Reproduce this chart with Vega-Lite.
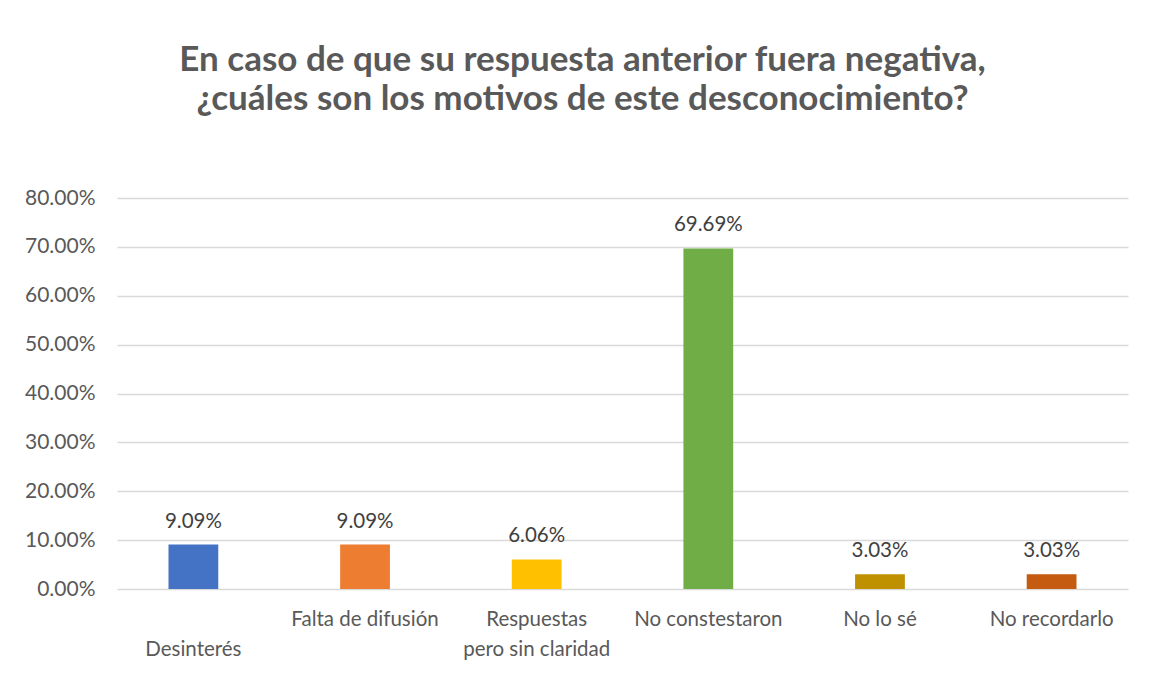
{
  "$schema": "https://vega.github.io/schema/vega-lite/v6.json",
  "width": 1011,
  "height": 391,
  "autosize": {"type": "none"},
  "padding": {"left": 117, "top": 198, "right": 22, "bottom": 84},
  "background": "white",
  "title": {
    "text": ["En caso de que su respuesta anterior fuera negativa,", "¿cuáles son los motivos de este desconocimiento?"],
    "font": "Lato",
    "fontSize": 35,
    "fontWeight": "bold",
    "color": "#595959",
    "lineHeight": 39,
    "anchor": "middle",
    "dx": -40,
    "offset": 70
  },
  "data": {
    "values": [
      {"motivo": "Desinterés", "pct": 0.0909},
      {"motivo": "Falta de difusión", "pct": 0.0909},
      {"motivo": "Respuestas pero sin claridad", "pct": 0.0606},
      {"motivo": "No constestaron", "pct": 0.6969},
      {"motivo": "No lo sé", "pct": 0.0303},
      {"motivo": "No recordarlo", "pct": 0.0303}
    ]
  },
  "encoding": {
    "x": {
      "field": "motivo",
      "type": "nominal",
      "sort": null,
      "scale": {"paddingInner": 0.71, "paddingOuter": 0.3},
      "axis": {
        "title": null,
        "labelAngle": 0,
        "labelFont": "Lato",
        "labelFontSize": 20.5,
        "labelColor": "#595959",
        "labelPadding": 20,
        "labelLineHeight": 30,
        "labelExpr": "datum.value == 'Desinterés' ? ['', 'Desinterés'] : datum.value == 'Respuestas pero sin claridad' ? ['Respuestas', 'pero sin claridad'] : datum.value",
        "ticks": false,
        "domain": false
      }
    },
    "y": {
      "field": "pct",
      "type": "quantitative",
      "scale": {"domain": [0, 0.8]},
      "axis": {
        "title": null,
        "format": ".2%",
        "values": [0, 0.1, 0.2, 0.3, 0.4, 0.5, 0.6, 0.7, 0.8],
        "labelFont": "Lato",
        "labelFontSize": 21,
        "labelColor": "#595959",
        "labelPadding": 22,
        "ticks": false,
        "domain": false,
        "gridColor": "#D9D9D9",
        "gridWidth": 1.3
      }
    }
  },
  "layer": [
    {
      "mark": {"type": "bar"},
      "encoding": {
        "color": {
          "field": "motivo",
          "type": "nominal",
          "sort": null,
          "legend": null,
          "scale": {
            "domain": ["Desinterés", "Falta de difusión", "Respuestas pero sin claridad", "No constestaron", "No lo sé", "No recordarlo"],
            "range": ["#4472C4", "#ED7D31", "#FFC000", "#70AD47", "#BF9000", "#C55A11"]
          }
        }
      }
    },
    {
      "mark": {"type": "text", "baseline": "bottom", "dy": -13, "font": "Lato", "fontSize": 20.5, "color": "#404040"},
      "encoding": {
        "text": {"field": "pct", "type": "quantitative", "format": ".2%"}
      }
    }
  ],
  "config": {"view": {"stroke": null}}
}
